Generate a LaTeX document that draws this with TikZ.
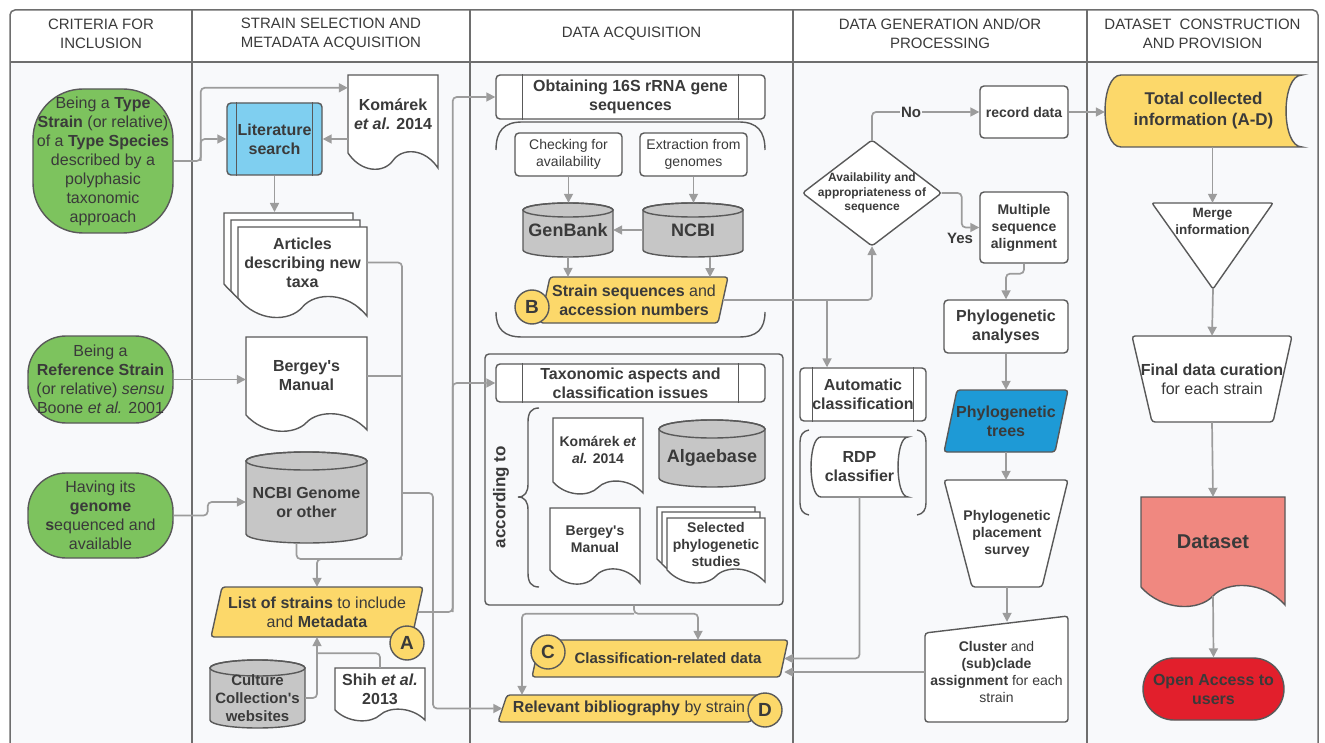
\documentclass[tikz,border=0pt]{standalone}
\usepackage{fontspec}
\setmainfont{Liberation Sans}
\usetikzlibrary{arrows.meta, calc, positioning}
\definecolor{framegray}{HTML}{6E6E6E}
\definecolor{shapeline}{HTML}{595959}
\definecolor{conngray}{HTML}{9C9C9C}
\definecolor{txtgray}{HTML}{3A3A3A}
\definecolor{bodybg}{HTML}{F8F9FB}
\definecolor{critgreen}{HTML}{7DC35E}
\definecolor{litblue}{HTML}{7FCFF0}
\definecolor{treeblue}{HTML}{1E9AD6}
\definecolor{resyellow}{HTML}{FCD86A}
\definecolor{dbgray}{HTML}{C6C6C6}
\definecolor{setsalmon}{HTML}{F08880}
\definecolor{openred}{HTML}{E21F2C}

% outlines drawn from their box corners (x0,y0,x1,y1)
\newcommand{\docshape}[6]{%
  \pgfmathsetmacro{\shw}{#3-#1}%
  \filldraw[shp, fill=#6] (#1,#4) -- (#1,#2) -- (#3,#2) -- (#3,{#4+#5})
    .. controls ({#1+0.85*\shw},{#4-0.35*#5}) and ({#1+0.6*\shw},{#4-0.35*#5}) .. ({#1+0.5*\shw},{#4+0.5*#5})
    .. controls ({#1+0.4*\shw},{#4+1.35*#5}) and ({#1+0.15*\shw},{#4+1.35*#5}) .. (#1,#4) -- cycle;}
\newcommand{\cylshape}[6]{%
  \pgfmathsetmacro{\shrx}{(#3-#1)/2}%
  \filldraw[shp, fill=#6] (#1,{#2+#5}) -- (#1,{#4-#5})
    arc[start angle=180, end angle=360, x radius=\shrx pt, y radius=#5 pt] -- (#3,{#2+#5})
    arc[start angle=0, end angle=180, x radius=\shrx pt, y radius=#5 pt] -- cycle;
  \draw[shp] ({(#1+#3)/2},{#2+#5}) ellipse[x radius=\shrx pt, y radius=#5 pt];}
\newcommand{\storeshape}[6]{%
  \filldraw[shp, fill=#6] ({#1+#5},#2) -- (#3,#2)
    .. controls ({#3-1.33*#5},#2) and ({#3-1.33*#5},#4) .. (#3,#4) -- ({#1+#5},#4)
    .. controls ({#1-0.33*#5},#4) and ({#1-0.33*#5},#2) .. ({#1+#5},#2) -- cycle;}
\newcommand{\parashape}[6]{%
  \filldraw[shp, fill=#6, rounded corners=3] ({#1+#5},#2) -- (#3,#2) -- ({#3-#5},#4) -- (#1,#4) -- cycle;}
\newcommand{\trapshape}[7]{%
  \filldraw[shp, fill=#7, rounded corners=3] (#1,#3) -- (#2,#3) -- (#5,#6) -- (#4,#6) -- cycle;}
\newcommand{\proclines}[2]{%
  \draw[shp] ($(#1.north west)+(#2,0)$) -- ($(#1.south west)+(#2,0)$);
  \draw[shp] ($(#1.north east)+(-#2,0)$) -- ($(#1.south east)+(-#2,0)$);}

\begin{document}
\begin{tikzpicture}[x=1pt, y=-1pt,
    colframe/.style={draw=framegray, line width=1.5},
    shp/.style={draw=shapeline, line width=1.4},
    conn/.style={draw=conngray, line width=1.7, rounded corners=4},
    arr/.style={conn, -{Triangle[length=9pt, width=9pt]}},
    txt/.style={text=txtgray, align=center, inner sep=0},
    f12b/.style={font=\fontsize{12}{14.5}\selectfont\bfseries},
    f14/.style={font=\fontsize{14}{17}\selectfont},
    f14b/.style={font=\fontsize{14}{17}\selectfont\bfseries},
    f16/.style={font=\fontsize{16}{19}\selectfont},
    f16b/.style={font=\fontsize{16}{19}\selectfont\bfseries},
    hdr/.style={txt, font=\fontsize{15}{19}\selectfont},
    crit/.style={txt, f16, shp, fill=critgreen},
    rbox/.style={txt, shp, fill=white, rounded corners=4},
    procbox/.style={rbox, f16b},
    badge/.style={circle, shp, fill=resyellow, minimum size=34, inner sep=0, text=txtgray, font=\fontsize{19}{19}\selectfont\bfseries},
    lbl/.style={txt, font=\fontsize{15}{18}\selectfont\bfseries}]

\useasboundingbox (0,0) rectangle (1325,743);
\clip (0,0) rectangle (1325,743);
\fill[white] (0,0) rectangle (1325,743);
\fill[bodybg] (10,62) rectangle (1318,760);
\draw[colframe, rounded corners=5] (10,760) -- (10,10) -- (1318,10) -- (1318,760);
\draw[colframe] (10,62) -- (1318,62);
\foreach \colx in {192,470,793,1087}
  \draw[colframe] (\colx,10) -- (\colx,760);

\node[hdr] (hcrit) at (101,34) {CRITERIA FOR\\INCLUSION};
\node[hdr] (hsel) at (331,34) {STRAIN SELECTION AND\\METADATA ACQUISITION};
\node[hdr] (hacq) at (631.5,34) {DATA ACQUISITION};
\node[hdr] (hgen) at (940,34) {DATA GENERATION AND/OR\\PROCESSING};
\node[hdr] (hset) at (1202.5,34) {DATASET\ \ CONSTRUCTION\\AND PROVISION};

% criteria
\node[crit, minimum width=140, minimum height=144, rounded corners=50] (crit1) at (103,161)
  {Being a \textbf{Type}\\\textbf{Strain} (or relative)\\of a \textbf{Type Species}\\described by a\\polyphasic\\taxonomic\\approach};
\node[crit, minimum width=145, minimum height=87, rounded corners=38] (crit2) at (100.5,379.5)
  {Being a\\\textbf{Reference Strain}\\(or relative) \textit{sensu}\\Boone \textit{et al.} 2001};
\node[crit, minimum width=145, minimum height=85, rounded corners=38] (crit3) at (100.5,515.5)
  {Having its\\\textbf{genome}\\\textbf{s}equenced and\\available};

% strain selection
\docshape{348}{75}{438}{153}{15}{white}
\node[txt, f16b, minimum width=90, minimum height=78] (kom1) at (393,114) {Komárek\\\textit{et al.} 2014};
\node[rbox, f16b, fill=litblue, minimum width=95, minimum height=72] (lit) at (274.5,139) {Literature\\search};
\proclines{lit}{10}
\docshape{224}{213}{353}{284}{18}{white}
\docshape{231}{220}{360}{291}{18}{white}
\docshape{238}{227}{367}{298}{18}{white}
\node[txt, f16b, minimum width=129, minimum height=71] (art) at (302.5,262.5) {Articles\\describing new\\taxa};
\coordinate (artback) at (274.5,212);
\docshape{246}{337}{367}{415}{15}{white}
\node[txt, f16b, minimum width=121, minimum height=78] (berg1) at (306.5,376) {Bergey\textquotesingle s\\Manual};
\cylshape{246}{452}{367}{543}{9}{dbgray}
\node[txt, f16b, minimum width=121, minimum height=82] (ncbig) at (306.5,502) {NCBI Genome\\or other};
\parashape{211}{587}{423}{637}{11}{resyellow}
\node[txt, f16, minimum width=201, minimum height=50] (list) at (317,612) {\textbf{List of strains} to include\\and \textbf{Metadata}};
\cylshape{210}{660}{305}{728}{8}{dbgray}
\node[txt, font=\fontsize{15}{18}\selectfont\bfseries, minimum width=95, minimum height=60] (cult) at (257.5,698) {Culture\\Collection\textquotesingle s\\websites};
\docshape{335}{668}{425}{710}{10}{white}
\node[txt, f16b, minimum width=90, minimum height=42] (shih) at (380,689) {Shih \textit{et al.}\\2013};

% data acquisition
\node[procbox, minimum width=269, minimum height=44] (obt) at (630.5,97) {Obtaining 16S rRNA gene\\sequences};
\proclines{obt}{27}
\draw[shp] (496,150) .. controls (496,131) and (504,122) .. (522,122) -- (739,122) .. controls (757,122) and (765,131) .. (765,150);
\draw[shp] (496,312) .. controls (496,329) and (504,337) .. (522,337) -- (739,337) .. controls (757,337) and (765,329) .. (765,312);
\node[rbox, f14, minimum width=107, minimum height=43] (chk) at (568.5,154.5) {Checking for\\availability};
\node[rbox, f14, minimum width=107, minimum height=43] (ext) at (693.5,154.5) {Extraction from\\genomes};
\cylshape{523}{203}{613}{257}{7}{dbgray}
\node[txt, font=\fontsize{18}{21}\selectfont\bfseries, minimum width=90, minimum height=54] (genb) at (568,230) {GenBank};
\cylshape{643}{203}{743}{257}{7}{dbgray}
\node[txt, font=\fontsize{18}{21}\selectfont\bfseries, minimum width=100, minimum height=54] (ncbi) at (693,230) {NCBI};
\parashape{540}{277}{728}{323}{10}{resyellow}
\node[txt, f16, minimum width=178, minimum height=46] (seqs) at (634,300) {\textbf{Strain sequences} and\\\textbf{accession numbers}};

\node[shp, rounded corners=4, minimum width=298, minimum height=251, inner sep=0] (taxbox) at (634,479.5) {};
\node[procbox, minimum width=269, minimum height=38] (taxp) at (630.5,383) {Taxonomic aspects and\\classification issues};
\proclines{taxp}{27}
\node[txt, font=\fontsize{17}{20}\selectfont\bfseries, rotate=90] (acc) at (501,497) {according to};
\draw[shp] (539,408) .. controls (531,408) and (528,413) .. (528,422) -- (528,484) .. controls (528,492) and (525,497) .. (518,497)
  .. controls (525,497) and (528,502) .. (528,510) -- (528,573) .. controls (528,582) and (531,587) .. (539,587);
\docshape{553}{418}{643}{482}{11}{white}
\node[txt, f14b, minimum width=90, minimum height=64] (kom2) at (598,450) {Komárek \textit{et}\\\textit{al.} 2014};
\cylshape{659}{420}{765}{487}{9}{dbgray}
\node[txt, font=\fontsize{18}{21}\selectfont\bfseries, minimum width=106, minimum height=58] (alga) at (712,458) {Algaebase};
\docshape{550}{508}{640}{570}{13}{white}
\node[txt, f14b, minimum width=90, minimum height=62] (berg2) at (595,539) {Bergey\textquotesingle s\\Manual};
\docshape{657}{507}{755}{559}{12}{white}
\docshape{662}{512}{760}{564}{12}{white}
\docshape{667}{518}{765}{570}{12}{white}
\node[txt, f14b, minimum width=98, minimum height=52] (sel) at (716,544) {Selected\\phylogenetic\\studies};
\parashape{532}{640}{788}{677}{8}{resyellow}
\node[txt, font=\fontsize{15}{18}\selectfont\bfseries, minimum width=232, minimum height=37] (cdata) at (668,658.5) {Classification-related data};
\parashape{498}{695}{760}{722}{9}{resyellow}
\node[txt, f16, minimum width=253, minimum height=27] (bib) at (629,708.5) {\textbf{Relevant bibliography} by strain};

% data generation
\filldraw[shp, fill=white, rounded corners=3] (872,140) -- (941.5,193) -- (872,246) -- (802.5,193) -- cycle;
\node[txt, f12b, minimum width=139, minimum height=106] (diam) at (872,193) {Availability and\\appropriateness of\\sequence};
\node[rbox, f14b, minimum width=88, minimum height=52] (recd) at (1024,112) {record data};
\node[rbox, f14b, minimum width=88, minimum height=71] (msa) at (1024,227.5) {Multiple\\sequence\\alignment};
\node[rbox, f16b, minimum width=124, minimum height=53] (ana) at (1006,326.5) {Phylogenetic\\analyses};
\parashape{944}{390}{1068}{452}{13}{treeblue}
\node[txt, f16b, minimum width=111, minimum height=62] (trees) at (1006,421) {Phylogenetic\\trees};
\trapshape{944}{1068}{480}{972}{1042}{587}{white}
\node[txt, f14b, minimum width=96, minimum height=107] (surv) at (1007,533.5) {Phylogenetic\\placement\\survey};
\filldraw[shp, fill=white, rounded corners=3] (925,633) -- (1068,616) -- (1068,722) -- (925,722) -- cycle;
\node[txt, f14, minimum width=143, minimum height=100] (clu) at (996.5,672) {\textbf{Cluster} and\\\textbf{(sub)clade}\\\textbf{assignment} for each\\strain};
\node[procbox, minimum width=126, minimum height=53] (autocls) at (863,394.5) {Automatic\\classification};
\proclines{autocls}{13}
\draw[shp] (809,430) .. controls (803,431) and (800,435) .. (800,442) -- (800,503) .. controls (800,510) and (803,514) .. (809,515);
\draw[shp] (917,430) .. controls (923,431) and (926,435) .. (926,442) -- (926,503) .. controls (926,510) and (923,514) .. (917,515);
\storeshape{811}{437}{908}{497}{10}{white}
\node[txt, f16b, minimum width=97, minimum height=60] (rdp) at (859.5,467) {RDP\\classifier};

% dataset
\storeshape{1105}{75}{1302}{147}{16}{resyellow}
\node[txt, font=\fontsize{17}{21}\selectfont\bfseries, minimum width=197, minimum height=72] (tot) at (1203.5,111) {Total collected\\information (A-D)};
\filldraw[shp, fill=white, rounded corners=2] (1152,203) -- (1273,203) -- (1213,289) -- cycle;
\node[txt, font=\fontsize{13.5}{17}\selectfont\bfseries, minimum width=121, minimum height=36] (merge) at (1212.5,221) {Merge\\information};
\coordinate (mtip) at (1213,289);
\trapshape{1132}{1292}{336}{1152}{1273}{422}{white}
\node[txt, f16, minimum width=140, minimum height=86] (fin) at (1212,379) {\textbf{Final data curation}\\for each strain};
\docshape{1141}{497}{1285}{587}{18}{setsalmon}
\node[txt, font=\fontsize{20}{24}\selectfont\bfseries, minimum width=144, minimum height=90] (dset) at (1213,542) {Dataset};
\node[txt, f16b, shp, fill=openred, rounded corners=31, minimum width=141, minimum height=62] (open) at (1213.5,689) {Open Access to\\users};

% connectors
\draw[arr] (crit1.east) -- ++(27,0) |- ($(kom1.north west)+(0,13)$);
\draw[arr] (crit1.east) ++(27,0) |- (lit.west);
\draw[arr] (kom1.west |- lit.east) -- (lit.east);
\draw[arr] (lit.south) -- (artback);
\draw[arr] (crit2.east) -- (crit2.east -| berg1.west);
\draw[arr] (crit3.east) -- ++(34,0) |- (ncbig.west);
\coordinate (trunk) at (402,559);
\coordinate (bibsplit) at (402,493);
\draw[arr] (art.east) -| (trunk) -| (list.north);
\draw[conn] (berg1.east) -- (berg1.east -| trunk);
\draw[conn] ($(ncbig.south)+(-10,0)$) |- (trunk);
\draw[arr] (bibsplit) -- ++(31,0) |- (bib.west);
\draw[arr] (list.east) -- ++(35,0) |- (obt.west);
\draw[arr] (list.east) ++(35,0) |- (taxp.west);
\draw[arr] (cult.east) -| (list.south);
\draw[conn] (shih.north) |- ($(list.south)+(0,16)$);

\draw[arr] (chk.south) -- (chk.south |- genb.north);
\draw[arr] (ext.south) -- (ext.south |- ncbi.north);
\draw[arr] (ncbi.west) -- (genb.east);
\draw[arr] (genb.south) -- (genb.south |- seqs.north);
\draw[arr] ($(ncbi.south)+(17,0)$) -- ++(0,20);
\draw[arr] (seqs.east) -| (diam.south);
\coordinate (autosplit) at (827,300);
\draw[arr] (autosplit) -- (autosplit |- autocls.north);
\draw[arr] (taxbox.south) -- ++(0,8) -| ($(cdata.north)+(30,0)$);
\draw[arr] (taxbox.south) ++(0,8) -| ($(bib.north)+(-107,0)$);

\draw[arr] (diam.north) |- (recd.west);
\draw[arr] (diam.east) -- ++(20,0) |- (msa.west);
\draw[arr] (msa.south) -- ++(0,10) -| (ana.north);
\draw[arr] (ana.south) -- (ana.south |- trees.north);
\draw[arr] (trees.south) -- (trees.south |- surv.north);
\draw[arr] (surv.south) -- (surv.south |- clu.north);
\draw[arr] (rdp.south) |- (cdata.east);
\draw[arr] (clu.west) -- (clu.west -| cdata.east);

\draw[arr] (recd.east) -- (recd.east -| tot.west);
\draw[arr] (merge.north |- tot.south) -- (merge.north);
\draw[arr] (mtip) -- (fin.north);
\draw[arr] (fin.south) -- (dset.north);
\draw[arr] ($(dset.south)+(0,9)$) -- (open.north);

\node[lbl, fill=bodybg, inner sep=1] (no) at (911,112) {No};
\node[lbl] (yes) at (960,238) {Yes};

\node[badge] (bA) at (407,643) {A};
\node[badge] (bB) at (532,307) {B};
\node[badge] (bC) at (548,652) {C};
\node[badge] (bD) at (765,710) {D};
\end{tikzpicture}
\end{document}
